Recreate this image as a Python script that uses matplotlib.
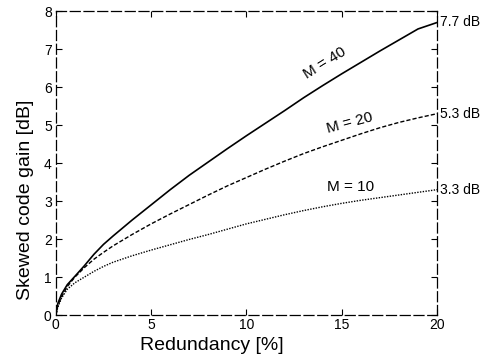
import numpy as np
import matplotlib
matplotlib.use("Agg")
import matplotlib.pyplot as plt

plt.rcParams['font.family'] = ['Liberation Sans', 'DejaVu Sans']

redundancy = [0, 0.1, 0.3, 0.6, 1, 1.5, 2, 2.5, 3, 4, 5, 6, 7, 8, 9, 10, 11, 12, 13, 14, 15, 16, 17, 18, 19, 20]
gain_m40 = [0, 0.3, 0.55, 0.8, 1.02, 1.3, 1.6, 1.86, 2.08, 2.5, 2.9, 3.3, 3.68, 4.03, 4.38, 4.72, 5.05, 5.38, 5.72, 6.04, 6.35, 6.65, 6.95, 7.24, 7.53, 7.7]
gain_m20 = [0, 0.25, 0.48, 0.75, 1.0, 1.25, 1.47, 1.65, 1.82, 2.12, 2.4, 2.66, 2.91, 3.16, 3.4, 3.62, 3.84, 4.05, 4.25, 4.43, 4.6, 4.77, 4.93, 5.07, 5.19, 5.3]
gain_m10 = [0, 0.2, 0.45, 0.68, 0.85, 1.0, 1.15, 1.28, 1.39, 1.56, 1.71, 1.85, 1.99, 2.12, 2.26, 2.4, 2.52, 2.64, 2.75, 2.85, 2.94, 3.02, 3.09, 3.16, 3.23, 3.3]

x_ticks = [0, 5, 10, 15, 20]
y_ticks = [0, 1, 2, 3, 4, 5, 6, 7, 8]

fig = plt.figure(figsize=(4.9, 3.58), dpi=100)
ax = fig.add_axes([0.114, 0.12, 0.778, 0.849])

ax.plot(redundancy, gain_m40, color='black', lw=1.2, ls='-')
ax.plot(redundancy, gain_m20, color='black', lw=1.0, ls=(0, (3, 1.5)))
ax.plot(redundancy, gain_m10, color='black', lw=1.0, ls=(0, (1, 1)))

ax.set_xlim(0, 20)
ax.set_ylim(0, 8)
ax.set_xticks(x_ticks)
ax.set_yticks(y_ticks)
ax.tick_params(direction='in', length=4, width=0.8, labelsize=10, top=True, right=True)
ax.tick_params(axis='x', pad=2)
ax.tick_params(axis='y', pad=3)
for s in ax.spines.values():
    s.set_linestyle((0, (8, 3)))
    s.set_linewidth(0.9)

ax.set_xlabel('Redundancy [%]', fontsize=14)
ax.xaxis.set_label_coords(0.41, -0.099)
ax.xaxis.label.set_va('center')
ax.set_ylabel('Skewed code gain [dB]', fontsize=14)
ax.yaxis.set_label_coords(-0.079, 0.378)
ax.yaxis.label.set_va('center')

ax.text(14.1, 6.64, 'M = 40', fontsize=11, rotation=32, ha='center', va='center')
ax.text(15.43, 5.06, 'M = 20', fontsize=11, rotation=15, ha='center', va='center')
ax.text(15.47, 3.36, 'M = 10', fontsize=11, rotation=0, ha='center', va='center')

ax.text(20.15, 7.7, '7.7 dB', fontsize=10, ha='left', va='center', clip_on=False)
ax.text(20.15, 5.3, '5.3 dB', fontsize=10, ha='left', va='center', clip_on=False)
ax.text(20.15, 3.3, '3.3 dB', fontsize=10, ha='left', va='center', clip_on=False)

fig.savefig('out.png', dpi=100)
